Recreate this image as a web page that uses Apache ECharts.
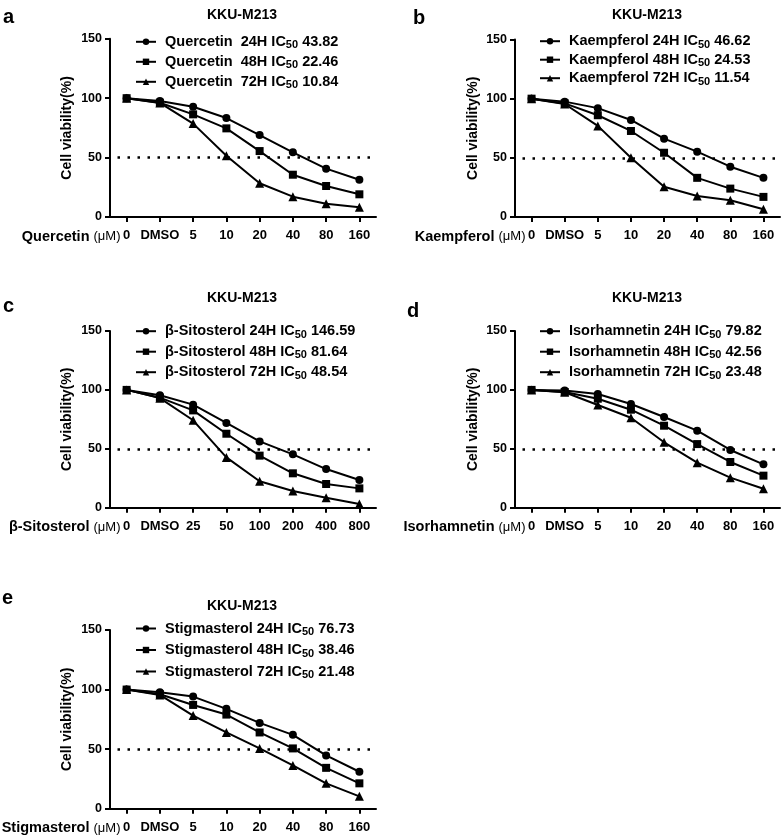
<!DOCTYPE html>
<html>
<head>
<meta charset="utf-8">
<script src="https://cdn.jsdelivr.net/npm/echarts@6/dist/echarts.min.js"></script>
<style>
html,body{margin:0;padding:0;background:#fff;}
#main{width:783px;height:836px;}
</style>
</head>
<body>
<div id="main"></div>
<script>
// ---- data ----
const catsStd = ['0', 'DMSO', '5', '10', '20', '40', '80', '160'];
const catsSito = ['0', 'DMSO', '25', '50', '100', '200', '400', '800'];
const compounds = ['Quercetin', 'Kaempferol', 'β-Sitosterol', 'Isorhamnetin', 'Stigmasterol'];
const legendPrefix = ['Quercetin  ', 'Kaempferol ', 'β-Sitosterol ', 'Isorhamnetin ', 'Stigmasterol '];
const hours = ['24H', '48H', '72H'];
const panelLetters = ['a', 'b', 'c', 'd', 'e'];
const cellLine = 'KKU-M213';
const yTicks = [0, 50, 100, 150];

const ic50Quercetin = ['43.82', '22.46', '10.84'];
const ic50Kaempferol = ['46.62', '24.53', '11.54'];
const ic50Sitosterol = ['146.59', '81.64', '48.54'];
const ic50Isorhamnetin = ['79.82', '42.56', '23.48'];
const ic50Stigmasterol = ['76.73', '38.46', '21.48'];

const quercetin24 = [100, 97.6, 92.8, 83.3, 69, 54.4, 40.7, 31.4];
const quercetin48 = [100, 96.2, 86.4, 74.6, 55.5, 35.6, 26.1, 19.1];
const quercetin72 = [100, 96, 78.6, 51.6, 28.4, 17.1, 11.2, 8.2];

const kaempferol24 = [100, 97.5, 92, 82, 66.2, 55.2, 42.5, 33.1];
const kaempferol48 = [100, 96, 86, 72.7, 54.3, 33.1, 24, 17];
const kaempferol72 = [100, 95.5, 77, 50, 25.5, 17.8, 14.2, 6.5];

const sitosterol24 = [100, 95.5, 87.5, 72, 56.3, 45.3, 32.8, 23.5];
const sitosterol48 = [100, 93.4, 82.6, 62.8, 44.2, 29.2, 20.1, 16.4];
const sitosterol72 = [100, 93, 74.2, 42.7, 22.4, 14.2, 8.5, 3.1];

const isorhamnetin24 = [100, 99.5, 96.5, 88, 77, 65.4, 49, 36.8];
const isorhamnetin48 = [100, 98.2, 92.5, 83.2, 69.6, 54, 38.8, 27.2];
const isorhamnetin72 = [100, 98, 87.2, 76.4, 55.5, 38.2, 25.5, 16.1];

const stigmasterol24 = [100, 97.7, 94.1, 83.8, 72, 62, 44.7, 31];
const stigmasterol48 = [100, 96.1, 87.1, 79, 64, 50.6, 34.3, 21.3];
const stigmasterol72 = [100, 95.5, 78.2, 64, 50.6, 36.3, 21.3, 10.4];

const threshold = 50;

// ---- assemble ----
const panelCats = [catsStd, catsStd, catsSito, catsStd, catsStd];
const panelIC50 = [ic50Quercetin, ic50Kaempferol, ic50Sitosterol, ic50Isorhamnetin, ic50Stigmasterol];
const panelValues = [
  [quercetin24, quercetin48, quercetin72],
  [kaempferol24, kaempferol48, kaempferol72],
  [sitosterol24, sitosterol48, sitosterol72],
  [isorhamnetin24, isorhamnetin48, isorhamnetin72],
  [stigmasterol24, stigmasterol48, stigmasterol72]
];

// ---- layout (positions / styles only) ----
const layout = [
  {grid: {left: 110, top: 38.8, width: 266, height: 178.2}, legend: {left: 135, top: 34.3, gap: 3.5}, title: [242, 8], letter: [3, 7], yGap: 36},
  {grid: {left: 515, top: 39.5, width: 265, height: 177.5}, legend: {left: 539, top: 33.7, gap: 2}, title: [647, 8], letter: [413, 8], yGap: 35},
  {grid: {left: 110, top: 331, width: 266, height: 176.7}, legend: {left: 135, top: 323.7, gap: 4}, title: [242, 291.3], letter: [3, 296.5], yGap: 36},
  {grid: {left: 515, top: 331, width: 265, height: 176.7}, legend: {left: 539, top: 323.7, gap: 4}, title: [647, 291.3], letter: [407, 301], yGap: 35},
  {grid: {left: 110, top: 630, width: 266, height: 178.7}, legend: {left: 135, top: 621, gap: 5}, title: [242, 599], letter: [2, 588.5], yGap: 36}
];
const symbols = ['circle', 'rect', 'triangle'];
const symbolSizes = [8, 8, 9];
const FONT = "'Liberation Sans', Arial, Helvetica, sans-serif";
const BLACK = '#000';

const labelMap = {};
const grids = [], xAxes = [], yAxes = [], series = [], legends = [], titles = [], graphics = [];

layout.forEach((L, p) => {
  grids.push(Object.assign({outerBoundsMode: 'none', containLabel: false}, L.grid));
  xAxes.push({
    type: 'category', gridIndex: p, data: panelCats[p], boundaryGap: true,
    name: '{b|' + compounds[p] + ' }{m|(μM)}',
    nameLocation: 'start', nameGap: -10.5, nameMoveOverlap: false,
    nameTextStyle: {
      align: 'right', verticalAlign: 'top', padding: [12, 0, 0, 0],
      rich: {
        b: {fontFamily: FONT, fontWeight: 'bold', fontSize: 14.5, color: BLACK},
        m: {fontFamily: FONT, fontWeight: 'normal', fontSize: 13, color: BLACK}
      }
    },
    axisLine: {show: true, lineStyle: {color: BLACK, width: 2}},
    axisTick: {show: true, alignWithLabel: true, length: 5, lineStyle: {color: BLACK, width: 2}},
    axisLabel: {interval: 0, margin: 12, color: BLACK, fontFamily: FONT, fontWeight: 'bold', fontSize: 13},
    splitLine: {show: false}
  });
  yAxes.push({
    type: 'value', gridIndex: p, min: yTicks[0], max: yTicks[yTicks.length - 1], interval: yTicks[1] - yTicks[0],
    name: 'Cell viability(%)', nameLocation: 'middle', nameGap: L.yGap, nameRotate: 90, nameMoveOverlap: false,
    nameTextStyle: {color: BLACK, fontFamily: FONT, fontWeight: 'bold', fontSize: 14},
    axisLine: {show: true, lineStyle: {color: BLACK, width: 2}},
    axisTick: {show: true, length: 5, lineStyle: {color: BLACK, width: 2}},
    axisLabel: {margin: 8, color: BLACK, fontFamily: FONT, fontWeight: 'bold', fontSize: 12.5},
    splitLine: {show: false}
  });
  const names = [];
  hours.forEach((h, k) => {
    const nm = compounds[p] + ' ' + h;
    names.push(nm);
    labelMap[nm] = '{g|}{t|' + legendPrefix[p] + h + ' IC}{s|50}{t| ' + panelIC50[p][k] + '}';
    const s = {
      name: nm, type: 'line', xAxisIndex: p, yAxisIndex: p,
      data: panelValues[p][k],
      symbol: symbols[k], symbolSize: symbolSizes[k], showSymbol: true,
      lineStyle: {color: BLACK, width: 2},
      itemStyle: {color: BLACK},
      emphasis: {disabled: true},
      z: 3 - k + 2,
      animation: false
    };
    if (k === 0) {
      s.markLine = {
        silent: true, symbol: ['none', 'none'], label: {show: false},
        lineStyle: {color: BLACK, width: 2.5, type: [2.5, 7.5], dashOffset: -7.5},
        data: [{yAxis: threshold}],
        animation: false
      };
    }
    series.push(s);
  });
  legends.push({
    orient: 'vertical', left: L.legend.left, top: L.legend.top, padding: 0,
    itemGap: L.legend.gap, itemWidth: 20, itemHeight: 8,
    data: names, selectedMode: false,
    formatter: (n) => labelMap[n],
    textStyle: {
      color: BLACK,
      rich: {
        g: {width: 4},
        t: {fontFamily: FONT, fontWeight: 'bold', fontSize: 14.5, color: BLACK, lineHeight: 18},
        s: {fontFamily: FONT, fontWeight: 'bold', fontSize: 11, color: BLACK, lineHeight: 8, verticalAlign: 'bottom'}
      }
    }
  });
  titles.push({
    text: cellLine, left: L.title[0], top: L.title[1], textAlign: 'center', padding: 0,
    textStyle: {color: BLACK, fontFamily: FONT, fontWeight: 'bold', fontSize: 14}
  });
  graphics.push({
    type: 'text', left: L.letter[0], top: L.letter[1],
    style: {text: panelLetters[p], fill: BLACK, font: 'bold 20px ' + FONT}
  });
});

const chart = echarts.init(document.getElementById('main'), null, {renderer: 'canvas'});
chart.setOption({
  backgroundColor: '#fff',
  animation: false,
  title: titles,
  grid: grids,
  xAxis: xAxes,
  yAxis: yAxes,
  legend: legends,
  graphic: graphics,
  series: series
});
</script>
</body>
</html>
